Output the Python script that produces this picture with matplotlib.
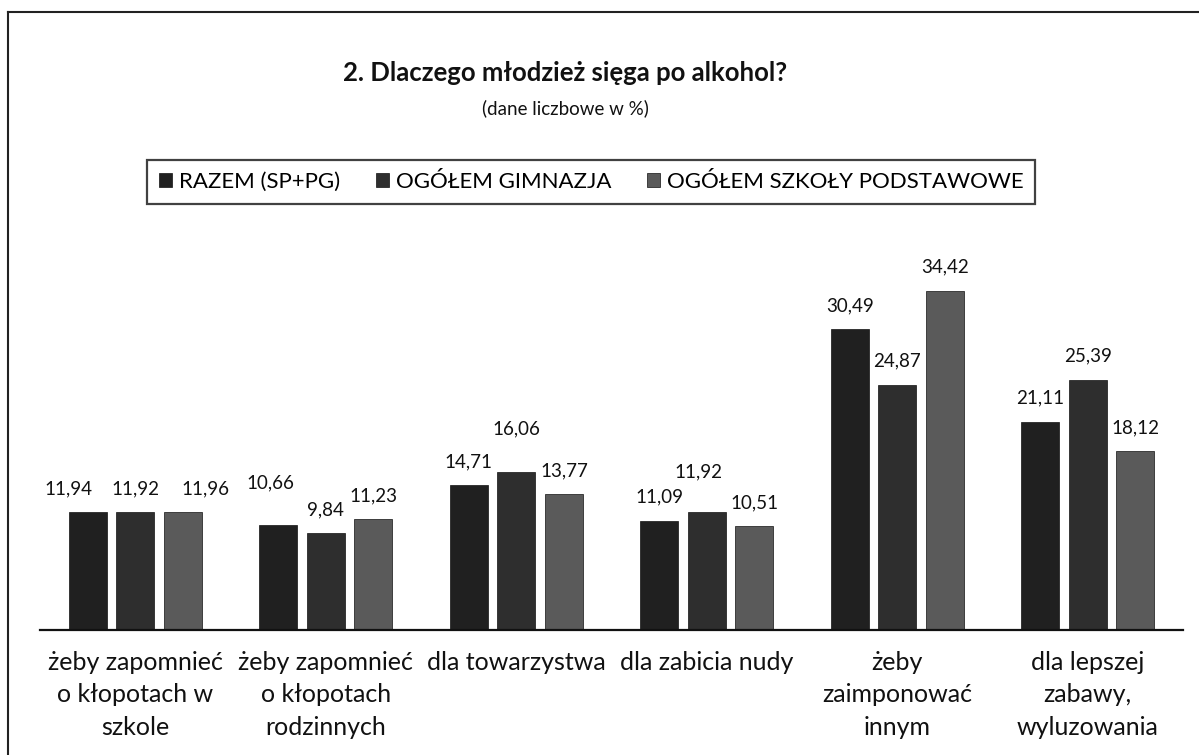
#!/usr/bin/env python3
"""Dlaczego mlodziez siega po alkohol - grouped bar chart (scan look)."""

import numpy as np
import matplotlib
matplotlib.use("Agg")
import matplotlib.pyplot as plt
from matplotlib.lines import Line2D
from matplotlib.patches import Patch

plt.rcParams['font.family'] = ['Lato', 'DejaVu Sans']

# data
categories = [
    "żeby zapomnieć\no kłopotach w\nszkole",
    "żeby zapomnieć\no kłopotach\nrodzinnych",
    "dla towarzystwa",
    "dla zabicia nudy",
    "żeby\nzaimponować\ninnym",
    "dla lepszej\nzabawy,\nwyluzowania",
]
series_names = ["RAZEM (SP+PG)", "OGÓŁEM GIMNAZJA", "OGÓŁEM SZKOŁY PODSTAWOWE"]
razem = [11.94, 10.66, 14.71, 11.09, 30.49, 21.11]
gimnazja = [11.92, 9.84, 16.06, 11.92, 24.87, 25.39]
podstawowe = [11.96, 11.23, 13.77, 10.51, 34.42, 18.12]

colors = ["#202020", "#2e2e2e", "#5a5a5a"]

# label nudges (pixels) where the original moved labels to avoid overlap
# key: (series, category)
nudge_y = {(0, 1): 19, (1, 2): 19, (1, 3): 17}
nudge_x = {(0, 0): -19, (2, 0): 23, (0, 1): -8, (1, 3): -8}

fig = plt.figure(figsize=(11.99, 7.55), dpi=100)
W, H = 1199, 755

# plot area in pixel coordinates of the reference
left, right, base, top = 40, 1183, 630, 250
ax = fig.add_axes([left / W, 1 - base / H, (right - left) / W, (base - top) / H])

x = np.arange(len(categories))
bar_w = 0.2
step = 0.25
px_per_pt = 100 / 72.0

for i, (vals, col) in enumerate(zip([razem, gimnazja, podstawowe], colors)):
    xs = x + (i - 1) * step
    ax.bar(xs, vals, width=bar_w, color=col, edgecolor='#111111', linewidth=0.5)
    for j, (xx, v) in enumerate(zip(xs, vals)):
        dy = (18 + nudge_y.get((i, j), 0)) / px_per_pt
        dx = nudge_x.get((i, j), 0) / px_per_pt
        ax.annotate(f"{v:.2f}".replace('.', ','), (xx, v),
                    xytext=(dx, dy), textcoords='offset points',
                    ha='center', va='baseline', fontsize=13.5, color='#111111')

ax.set_xlim(-0.5, len(categories) - 0.5)
ax.set_ylim(0, (base - top) / 9.86)
ax.set_yticks([])
ax.set_xticks(x)
ax.set_xticklabels(categories, fontsize=18, color='#111111', linespacing=1.5)
ax.tick_params(axis='x', length=0, pad=15)
for s in ['top', 'right', 'left']:
    ax.spines[s].set_visible(False)
ax.spines['bottom'].set_color('#111111')
ax.spines['bottom'].set_linewidth(1.6)

# titles
fig.text(565 / W, 1 - 73 / H, "2. Dlaczego młodzież sięga po alkohol?",
         ha='center', va='center', fontsize=18.5, fontweight='bold', color='#111111')
fig.text(565 / W, 1 - 108 / H, "(dane liczbowe w %)",
         ha='center', va='center', fontsize=13.5, color='#111111')

# legend in a box
handles = [Patch(facecolor=c, edgecolor='#111111', linewidth=0.5) for c in colors]
leg = fig.legend(handles, series_names, loc='center',
                 bbox_to_anchor=(591 / W, 1 - 182 / H), ncol=3, fontsize=16,
                 frameon=True, fancybox=False, edgecolor='#111111',
                 handlelength=0.6, handleheight=0.6, handletextpad=0.3,
                 columnspacing=1.6, borderpad=0.55)
leg.get_frame().set_linewidth(1.6)

# scanned frame: only top and left edges visible
fig.add_artist(Line2D([8 / W, 1], [1 - 12 / H, 1 - 12 / H], color='#222222', lw=1.5,
                      transform=fig.transFigure))
fig.add_artist(Line2D([8 / W, 8 / W], [1 - 12 / H, 0], color='#222222', lw=1.5,
                      transform=fig.transFigure))

fig.savefig("out.png", dpi=100, facecolor='white')
